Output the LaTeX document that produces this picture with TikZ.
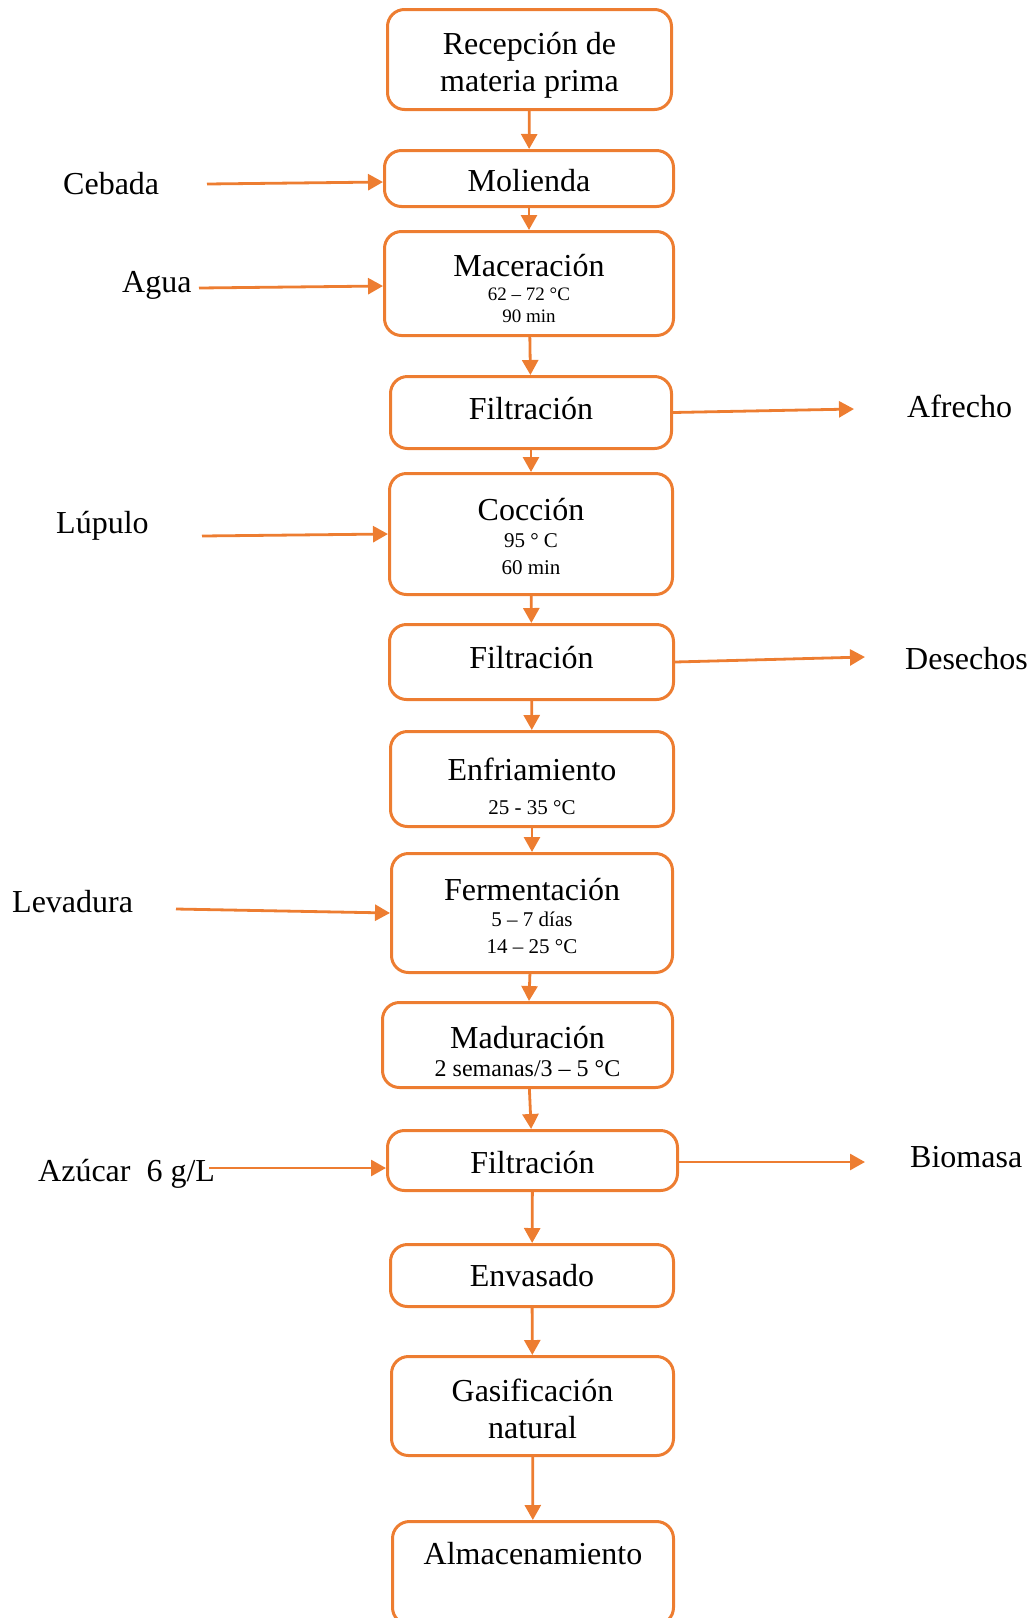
\documentclass[tikz,border=0pt]{standalone}
\usepackage{fontspec}
\setmainfont{Liberation Serif}
\usetikzlibrary{positioning,arrows.meta}
\definecolor{naranja}{RGB}{237,125,49}
\newcommand{\detalle}[2]{{\fontsize{#1}{#1}\selectfont #2}}

\begin{document}
\begin{tikzpicture}[
    x=1pt, y=-1pt,
    etapa/.style={rectangle, rounded corners=17pt, draw=naranja, line width=3pt,
        align=center, inner sep=0pt, font=\fontsize{32}{37}\selectfont},
    rotulo/.style={anchor=base west, inner sep=0pt, font=\fontsize{32}{37}\selectfont},
    flujo/.style={-{Triangle[length=15pt, width=16pt]}, naranja, line width=2.8pt}
]
\clip (0,0) rectangle (1033,1618);

% Etapas del proceso
\node[etapa, minimum width=284pt, minimum height=100pt] (p1) at (529.5,59.5)
    {\rule{0pt}{34pt}Recepción de\\materia prima};
\node[etapa, minimum width=289pt, minimum height=56pt] (p2) at (529,178.5)
    {\rule{0pt}{26pt}Molienda};
\node[etapa, minimum width=289pt, minimum height=104pt] (p3) at (529,283.5)
    {\rule{0pt}{32pt}Maceración\\[-13pt]\detalle{19}{62 – 72 °C}\\[-15pt]\detalle{19}{90 min}};
\node[etapa, minimum width=281pt, minimum height=72pt] (p4) at (531,412.5)
    {Filtración\rule[-8pt]{0pt}{8pt}};
\node[etapa, minimum width=283pt, minimum height=121pt] (p5) at (531,534)
    {\rule{0pt}{27pt}Cocción\\[-10pt]\detalle{21}{95 ° C}\\[-10pt]\detalle{21}{60 min}};
\node[etapa, minimum width=284pt, minimum height=75pt] (p6) at (531.5,662)
    {Filtración\rule[-9pt]{0pt}{9pt}};
\node[etapa, minimum width=283pt, minimum height=95pt] (p7) at (532,779)
    {\rule{0pt}{38pt}Enfriamiento\\[-3pt]\detalle{21}{25 - 35 °C}};
\node[etapa, minimum width=281pt, minimum height=119pt] (p8) at (532,913)
    {\rule{0pt}{29pt}Fermentación\\[-11pt]\detalle{21}{5 – 7 días}\\[-10pt]\detalle{21}{14 – 25 °C}};
\node[etapa, minimum width=290pt, minimum height=85pt] (p9) at (527.5,1045)
    {\rule{0pt}{35pt}Maduración\\[-9pt]\detalle{24}{2 semanas/3 – 5 °C}};
\node[etapa, minimum width=290pt, minimum height=60pt] (p10) at (532.5,1160.5)
    {\rule{0pt}{26pt}Filtración};
\node[etapa, minimum width=283pt, minimum height=62pt] (p11) at (532,1275.5) {Envasado};
\node[etapa, minimum width=282pt, minimum height=99pt] (p12) at (532.5,1406)
    {\rule{0pt}{28pt}Gasificación\\natural};
\node[etapa, minimum width=281pt, minimum height=103pt] (p13) at (533,1573)
    {Almacenamiento\\\rule[-3pt]{0pt}{3pt}};

% Entradas y salidas
\node[rotulo] (cebada) at (63,194) {Cebada};
\node[rotulo] (agua) at (122,292) {Agua};
\node[rotulo] (lupulo) at (56,533) {Lúpulo};
\node[rotulo] (levadura) at (12,912) {Levadura};
\node[rotulo] (azucar) at (38,1181) {Azúcar\ \ 6 g/L};
\node[rotulo] (afrecho) at (907,417) {Afrecho};
\node[rotulo] (desechos) at (905,669) {Desechos};
\node[rotulo] (biomasa) at (910,1167) {Biomasa};

\coordinate (cebadaIn) at (207,184);
\coordinate (aguaIn) at (199,288);
\coordinate (lupuloIn) at (202,536);
\coordinate (levaduraIn) at (176,909);
\coordinate (azucarIn) at (209,1168);
\coordinate (afrechoOut) at (854,409);
\coordinate (desechosOut) at (865,657);
\coordinate (biomasaOut) at (865,1162);

% Flujo principal
\foreach \i/\j in {1/2,2/3,3/4,4/5,5/6,6/7,7/8,8/9,9/10,10/11,11/12,12/13} {
    \draw[flujo] (p\i) -- (p\j);
}

% Flechas laterales
\draw[flujo] (cebadaIn) -- ([yshift=-3.5pt]p2.west);
\draw[flujo] (aguaIn) -- ([yshift=-2.5pt]p3.west);
\draw[flujo] (lupuloIn) -- (p5.west);
\draw[flujo] (levaduraIn) -- (p8.west);
\draw[flujo] (azucarIn) -- ([yshift=-7.5pt]p10.west);
\draw[flujo] (p4.east) -- (afrechoOut);
\draw[flujo] (p6.east) -- (desechosOut);
\draw[flujo] ([yshift=-1.5pt]p10.east) -- (biomasaOut);

\end{tikzpicture}
\end{document}
